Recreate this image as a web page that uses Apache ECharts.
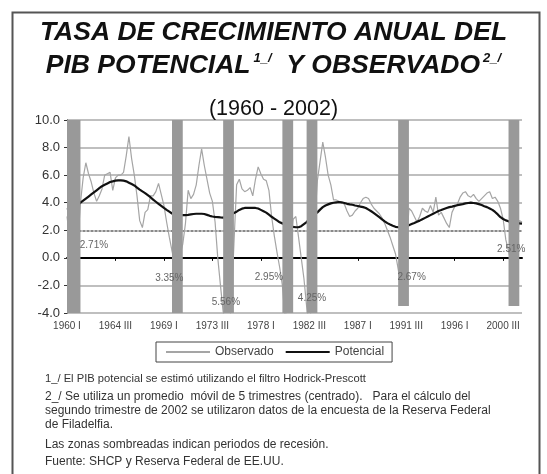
<!DOCTYPE html>
<html>
<head>
<meta charset="utf-8">
<script src="https://cdn.jsdelivr.net/npm/echarts@6/dist/echarts.min.js"></script>
<style>
  html, body { margin: 0; padding: 0; background: #fff; }
  #main { width: 547px; height: 474px; }
</style>
</head>
<body>
<div id="main"></div>
<script>
// trimestres 1960 I ... 2002 II
const quarters = ['I', 'II', 'III', 'IV'];
const categories = [];
for (let y = 1960; y <= 2002; y++) {
  quarters.forEach(q => categories.push(y + ' ' + q));
}
categories.length = 170;

// crecimiento anual observado (promedio movil 5 trimestres)
const observado = [
  3.0, 1.5, 0.5, -1.0,   // 1960
  1.0, 4.0, 5.8, 6.9,    // 1961
  6.1, 5.5, 4.7, 4.1,
  4.5, 5.0, 6.0, 6.1,
  6.2, 4.9, 5.8, 6.0,    // 1964
  6.0, 6.2, 7.4, 8.8,
  7.2, 6.0, 4.5, 2.7,
  2.2, 3.3, 3.5, 4.5,
  4.5, 4.8, 5.4, 4.6,    // 1968
  3.8, 2.6, 1.5, 0.5,
  -0.5, -0.3, 0.2, 1.0,
  2.5, 4.9, 4.3, 4.6,
  5.3, 6.7, 7.9, 6.7,    // 1972
  5.7, 4.7, 4.1, 2.6,
  0.0, -2.0, -3.9, -5.0,
  -5.5, -3.5, 1.0, 5.3,
  5.7, 5.0, 4.8, 4.9,    // 1976
  5.1, 4.5, 5.7, 6.6,
  6.1, 5.7, 5.6, 4.9,
  3.0, 1.6, 0.4, -0.7,
  -2.0, -4.5, -3.0, 0.5, // 1980
  2.8, 3.0, 1.5, 0.0,
  -1.5, -3.5, -5.0, -3.0,
  2.5, 5.6, 7.0, 8.4,
  7.3, 6.0, 5.3, 4.2,    // 1984
  4.2, 4.1, 4.0, 3.9,
  3.4, 3.0, 3.1, 3.4,
  3.6, 4.0, 4.3, 4.4,
  4.3, 3.9, 3.6, 3.4,    // 1988
  3.2, 2.9, 2.5, 2.0,
  1.5, 0.9, 0.3, -0.8,
  -2.0, -1.5, 0.5, 3.6,
  3.4, 3.0, 2.6, 3.0,    // 1992
  3.6, 3.4, 3.3, 3.8,
  3.3, 4.4, 3.1, 3.3,
  2.9, 2.5, 2.2, 3.3,
  3.7, 3.9, 4.4, 4.7,    // 1996
  4.8, 4.5, 4.4, 4.6,
  4.3, 4.1, 4.3, 4.5,
  4.7, 4.8, 4.3, 4.4,
  4.1, 3.6, 2.8, 1.3,    // 2000
  0.5, -0.5, -0.3, 0.8,
  2.7, 2.6
];

// crecimiento potencial (filtro Hodrick-Prescott)
const potencial = [
  3.5, 3.6, 3.7, 3.75,   // 1960
  3.85, 4.0, 4.15, 4.3,
  4.45, 4.6, 4.75, 4.9,
  5.05, 5.2, 5.3, 5.4,
  5.5, 5.55, 5.6, 5.62,  // 1964
  5.62, 5.6, 5.55, 5.45,
  5.35, 5.25, 5.1, 4.95,
  4.82, 4.7, 4.55, 4.4,
  4.22, 4.07, 3.92, 3.77, // 1968
  3.62, 3.48, 3.35, 3.22,
  3.15, 3.12, 3.1, 3.1,
  3.1, 3.12, 3.15, 3.18,
  3.2, 3.2, 3.2, 3.18,   // 1972
  3.12, 3.05, 3.0, 2.97,
  2.95, 2.93, 2.92, 2.95,
  3.05, 3.15, 3.25, 3.35,
  3.48, 3.57, 3.62, 3.63, // 1976
  3.63, 3.63, 3.62, 3.58,
  3.48, 3.38, 3.28, 3.13,
  2.98, 2.85, 2.72, 2.58,
  2.5, 2.42, 2.35, 2.3,  // 1980
  2.25, 2.22, 2.22, 2.3,
  2.45, 2.6, 2.8, 3.0,
  3.15, 3.3, 3.5, 3.68,
  3.8, 3.88, 3.95, 4.0,  // 1984
  4.03, 4.05, 4.03, 3.98,
  3.92, 3.88, 3.85, 3.8,
  3.76, 3.72, 3.68, 3.62,
  3.5, 3.38, 3.25, 3.1,  // 1988
  2.95, 2.8, 2.65, 2.52,
  2.42, 2.33, 2.25, 2.22,
  2.22, 2.25, 2.3, 2.37,
  2.45, 2.53, 2.62, 2.7, // 1992
  2.8, 2.9, 3.0, 3.1,
  3.2, 3.3, 3.4, 3.47,
  3.55, 3.62, 3.68, 3.72,
  3.77, 3.82, 3.86, 3.9, // 1996
  3.95, 3.98, 4.0, 3.98,
  3.95, 3.9, 3.83, 3.75,
  3.68, 3.58, 3.48, 3.33,
  3.15, 2.95, 2.82, 2.72, // 2000
  2.65, 2.6, 2.55, 2.5,
  2.5, 2.48
];

// periodos de recesion: inicio, fin, valor inferior
const recesiones = [
  ['1960 I', '1961 II', -4],
  ['1969 IV', '1970 IV', -4],
  ['1974 III', '1975 III', -4],
  ['1980 I', '1981 I', -4],
  ['1982 II', '1983 II', -4],
  ['1990 IV', '1991 IV', -3.5],
  ['2001 I', '2002 I', -3.5]
];

// etiquetas de porcentaje dentro de la grafica
const notas = [
  ['1962 III', 0.95, '2.71%'],
  ['1969 III', -1.45, '3.35%'],
  ['1974 IV', -3.2, '5.56%'],
  ['1978 IV', -1.4, '2.95%'],
  ['1982 IV', -2.9, '4.25%'],
  ['1992 I', -1.4, '2.67%'],
  ['2001 II', 0.6, '2.51%']
];

const yTicks = [-4, -2, 0, 2, 4, 6, 8, 10];

const FONT = '"Liberation Sans", Arial, sans-serif';
const chart = echarts.init(document.getElementById('main'));

// texto, posicion vertical, tamano de letra
const footnotes = [
  ['1_/ El PIB potencial se estimó utilizando el filtro Hodrick-Prescott', 380, 11.2],
  ['2_/ Se utiliza un promedio  móvil de 5 trimestres (centrado).   Para el cálculo del', 398, 12],
  ['segundo trimestre de 2002 se utilizaron datos de la encuesta de la Reserva Federal', 412, 12],
  ['de Filadelfia.', 426, 12],
  ['Las zonas sombreadas indican periodos de recesión.', 446, 12],
  ['Fuente: SHCP y Reserva Federal de EE.UU.', 463, 12]
];

chart.setOption({
  backgroundColor: '#fff',
  animation: false,
  title: [
    {
      text: 'TASA DE CRECIMIENTO ANUAL DEL',
      left: 'center', top: 14,
      textStyle: { fontFamily: FONT, fontSize: 26.5, fontWeight: 'bold', fontStyle: 'italic', color: '#111' }
    },
    {
      text: 'PIB POTENCIAL{s|1_/}  Y OBSERVADO{s|2_/}',
      left: 'center', top: 47,
      textStyle: {
        fontFamily: FONT, fontSize: 26.5, fontWeight: 'bold', fontStyle: 'italic', color: '#111',
        rich: {
          s: { fontFamily: FONT, fontSize: 13, fontWeight: 'bold', fontStyle: 'italic', color: '#111', verticalAlign: 'top', padding: [0, 0, 12, 3] }
        }
      }
    },
    {
      text: '(1960 - 2002)',
      left: 'center', top: 93,
      textStyle: { fontFamily: FONT, fontSize: 21.5, fontWeight: 'normal', color: '#111' }
    }
  ],
  legend: {
    left: 156, top: 342,
    padding: [4, 8, 4, 10],
    itemWidth: 44, itemHeight: 2, itemGap: 12,
    borderColor: '#444', borderWidth: 1,
    textStyle: { fontFamily: FONT, fontSize: 12, color: '#444' },
    data: [
      { name: 'Observado', icon: 'rect', itemStyle: { color: '#a5a5a5' } },
      { name: 'Potencial', icon: 'rect', itemStyle: { color: '#111' } }
    ]
  },
  grid: { left: 67, right: 25, top: 120, bottom: 161 },
  xAxis: [
    {
      type: 'category', data: categories, boundaryGap: false,
      axisLine: { show: false, onZero: false },
      axisTick: { show: false },
      axisLabel: { interval: 17, fontFamily: FONT, fontSize: 10, color: '#444', margin: 8 },
      splitLine: { show: false }
    },
    {
      type: 'category', data: categories, boundaryGap: false, position: 'bottom',
      axisLine: { onZero: true, lineStyle: { color: '#000', width: 2 } },
      axisTick: { show: true, interval: 17, length: 3, lineStyle: { color: '#000' } },
      axisLabel: { show: false },
      splitLine: { show: false }
    }
  ],
  yAxis: {
    type: 'value', min: yTicks[0], max: yTicks[yTicks.length - 1], interval: 2,
    axisLine: { show: true, lineStyle: { color: '#333' } },
    axisTick: { show: true, length: 3, lineStyle: { color: '#333' } },
    axisLabel: { fontFamily: FONT, fontSize: 13, color: '#333', margin: 7, formatter: v => v.toFixed(1) },
    splitLine: { lineStyle: { color: '#aaa', width: 1.5 } }
  },
  series: [
    {
      name: 'Observado', type: 'line', data: observado, symbol: 'none', z: 2,
      lineStyle: { color: '#a5a5a5', width: 1.2 }, itemStyle: { color: '#a5a5a5' }
    },
    {
      name: 'Potencial', type: 'line', data: potencial, symbol: 'none', z: 2,
      lineStyle: { color: '#111', width: 2.2 }, itemStyle: { color: '#111' },
      markLine: {
        silent: true, symbol: 'none', z: 1,
        label: { show: false },
        lineStyle: { color: '#8a8a8a', type: 'dotted', width: 2 },
        data: [{ yAxis: 2 }]
      }
    },
    {
      name: 'recesion', type: 'line', data: [], symbol: 'none',
      markArea: {
        silent: true, z: 3,
        itemStyle: { color: '#999' },
        data: recesiones.map(r => [{ xAxis: r[0], yAxis: 10 }, { xAxis: r[1], yAxis: r[2] }])
      },
      markPoint: {
        silent: true, z: 6,
        symbol: 'circle', symbolSize: 1,
        itemStyle: { color: 'rgba(0,0,0,0)' },
        label: { show: true, position: 'inside', formatter: '{b}', fontFamily: FONT, fontSize: 10, color: '#666' },
        data: notas.map(n => ({ name: n[2], coord: [n[0], n[1]] }))
      }
    }
  ],
  graphic: [
    {
      type: 'rect', left: 10, top: 10, z: 100,
      shape: { width: 527, height: 475 },
      style: { fill: 'none', stroke: '#555', lineWidth: 2 }
    }
  ].concat(footnotes.map(f => ({
    type: 'text', left: 45, top: f[1] - 7,
    style: { text: f[0], font: f[2] + 'px ' + FONT, fill: '#333' }
  })))
});
</script>
</body>
</html>
